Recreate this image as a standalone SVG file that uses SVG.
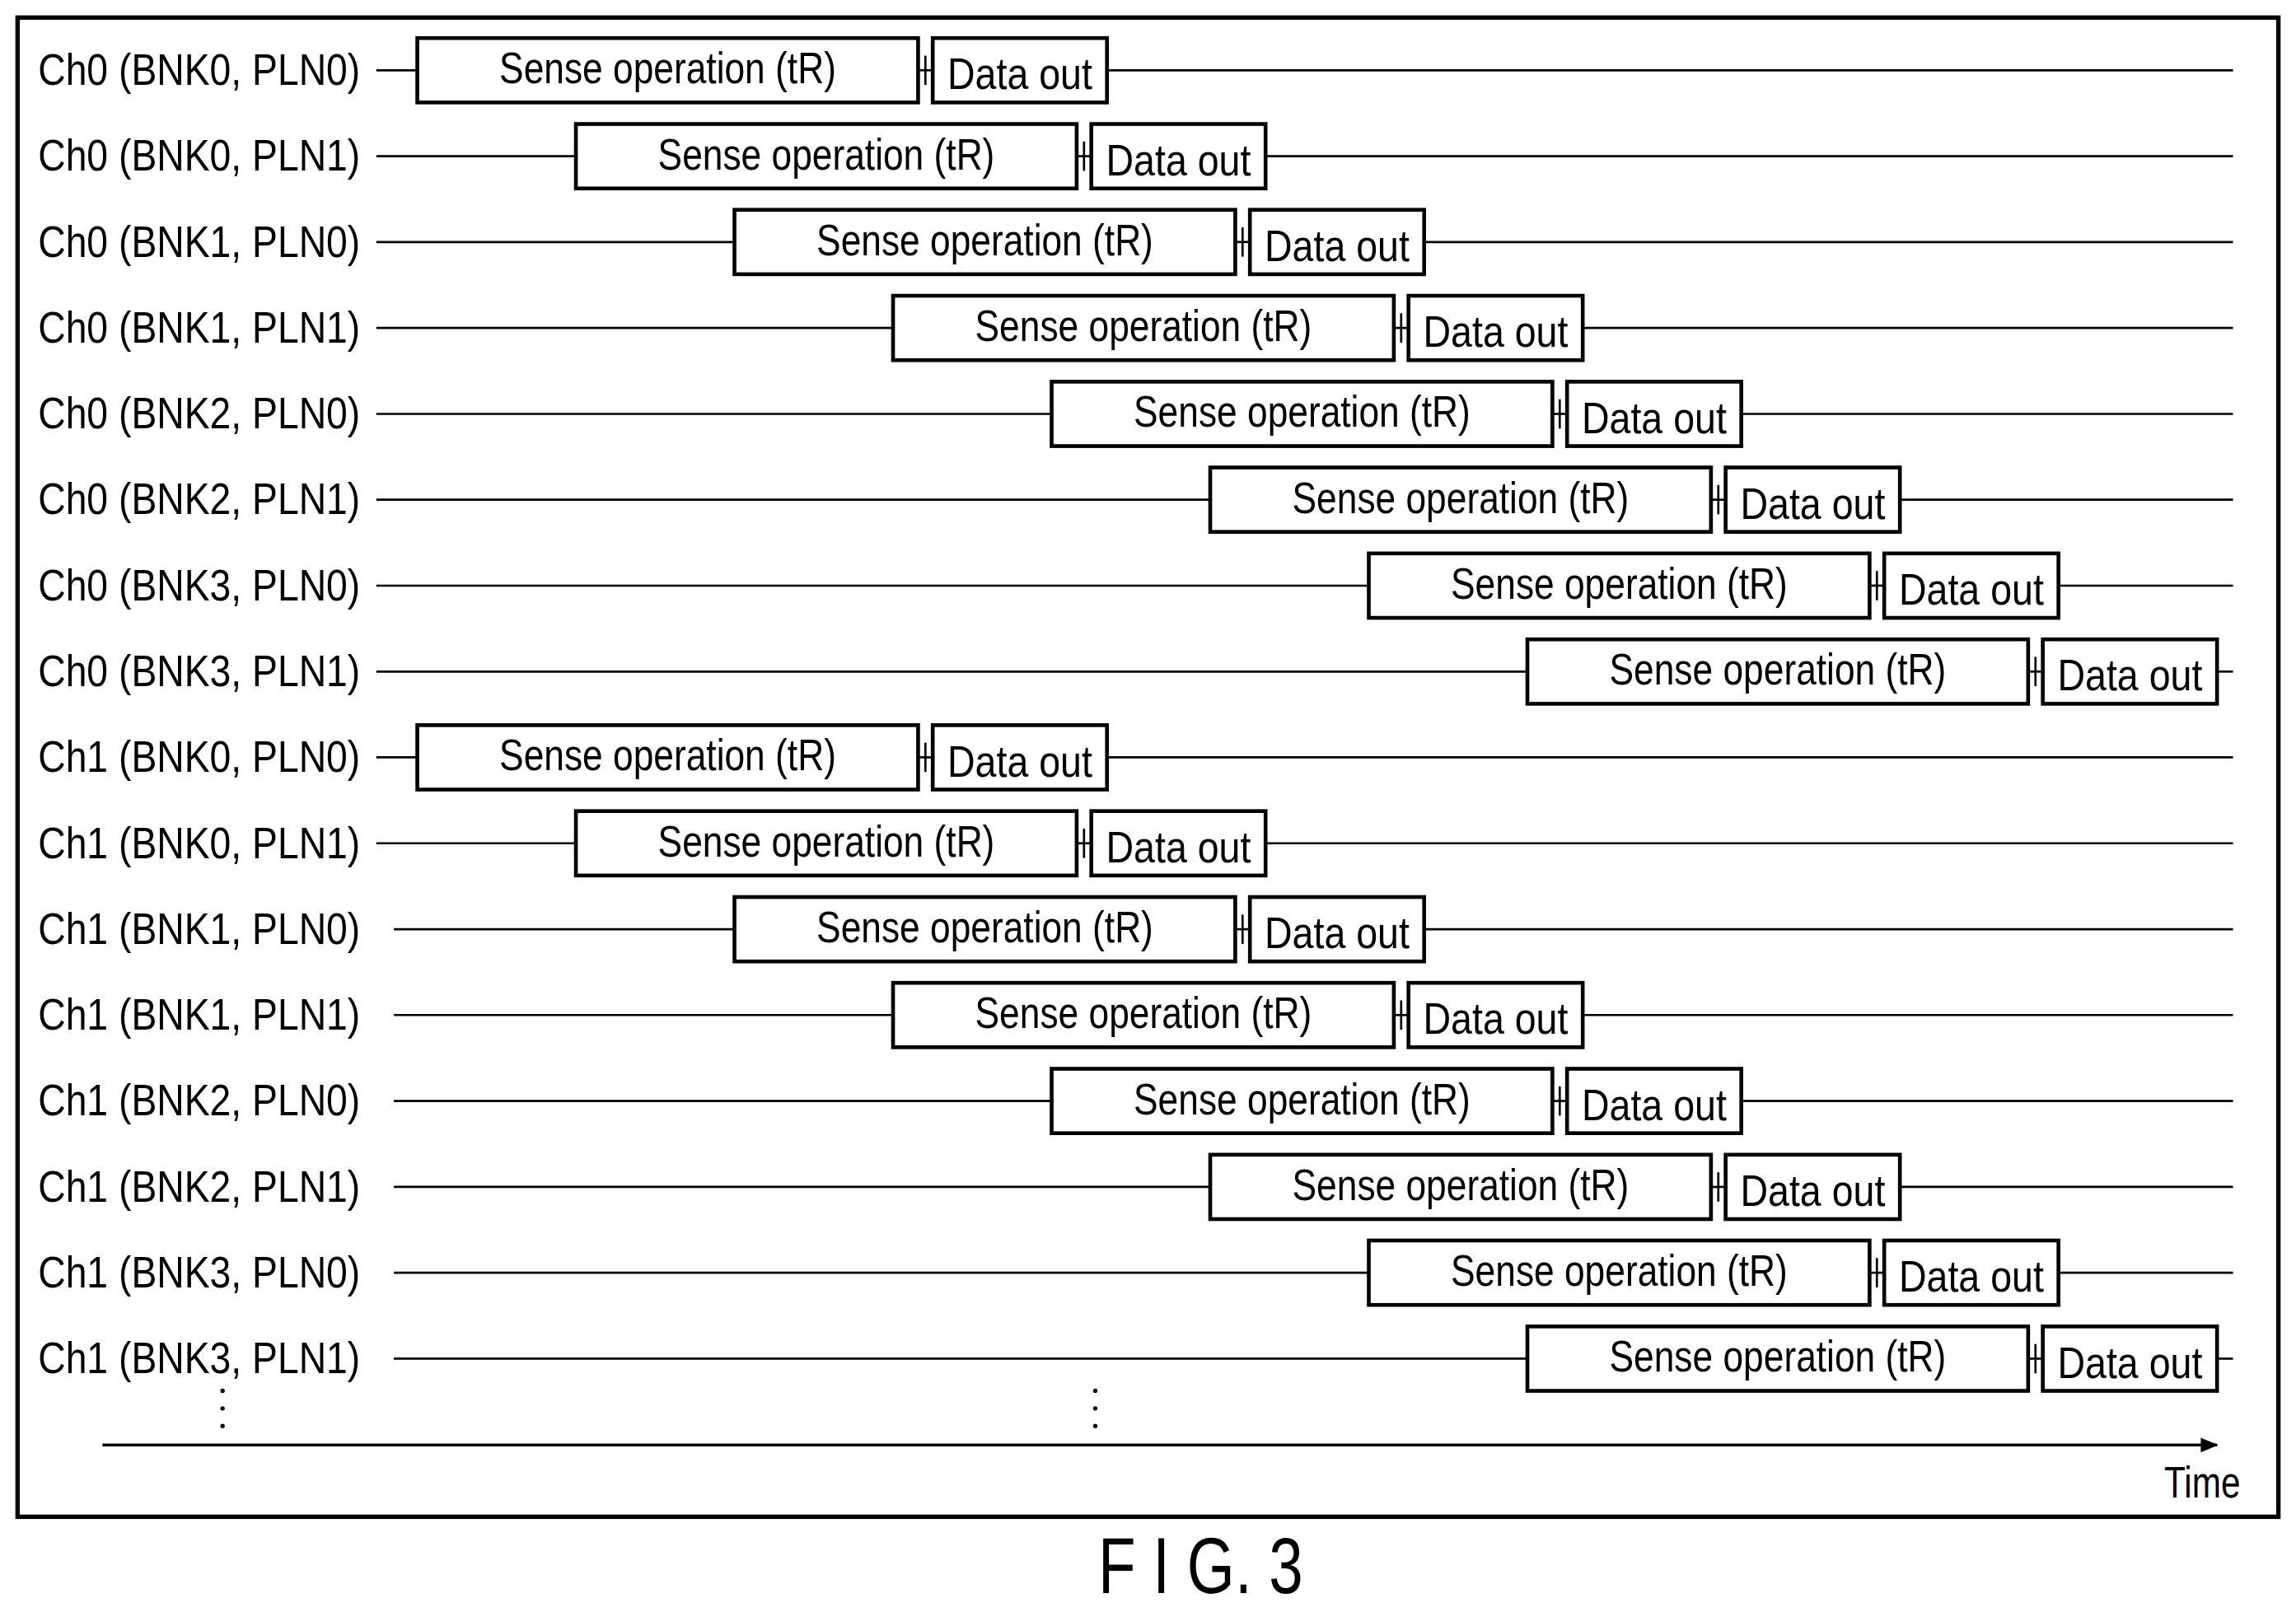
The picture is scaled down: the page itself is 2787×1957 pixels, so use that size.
<svg xmlns="http://www.w3.org/2000/svg" width="2787" height="1957" viewBox="0 0 2787 1957">
<style>
.b{fill:#fff;stroke:#000;stroke-width:2.6}
.l{stroke:#000;stroke-width:1.5;fill:none}
.t{font-family:"Liberation Sans",Arial,sans-serif;font-size:30px;fill:#000}
.c{text-anchor:middle}
</style>
<defs><marker id="ah" markerWidth="12" markerHeight="10" refX="11" refY="5" orient="auto" markerUnits="userSpaceOnUse"><path d="M0,0 L12,5 L0,10 Z" fill="#000"/></marker></defs>
<rect width="2787" height="1957" fill="#fff"/>
<g transform="scale(1.7774)">
<rect x="12" y="12" width="1544" height="1024" fill="none" stroke="#000" stroke-width="3"/>
<g id="connectors">
<line class="l" x1="257" y1="48" x2="285" y2="48"/><line class="l" x1="627" y1="48" x2="637" y2="48"/><line class="l" x1="632" y1="38" x2="632" y2="58"/><line class="l" x1="756" y1="48" x2="1525" y2="48"/>
<line class="l" x1="257" y1="106.7" x2="393.3" y2="106.7"/><line class="l" x1="735.3" y1="106.7" x2="745.3" y2="106.7"/><line class="l" x1="740.3" y1="96.7" x2="740.3" y2="116.7"/><line class="l" x1="864.3" y1="106.7" x2="1525" y2="106.7"/>
<line class="l" x1="257" y1="165.3" x2="501.6" y2="165.3"/><line class="l" x1="843.6" y1="165.3" x2="853.6" y2="165.3"/><line class="l" x1="848.6" y1="155.3" x2="848.6" y2="175.3"/><line class="l" x1="972.6" y1="165.3" x2="1525" y2="165.3"/>
<line class="l" x1="257" y1="224" x2="609.9" y2="224"/><line class="l" x1="951.9" y1="224" x2="961.9" y2="224"/><line class="l" x1="956.9" y1="214" x2="956.9" y2="234"/><line class="l" x1="1080.9" y1="224" x2="1525" y2="224"/>
<line class="l" x1="257" y1="282.7" x2="718.2" y2="282.7"/><line class="l" x1="1060.2" y1="282.7" x2="1070.2" y2="282.7"/><line class="l" x1="1065.2" y1="272.7" x2="1065.2" y2="292.7"/><line class="l" x1="1189.2" y1="282.7" x2="1525" y2="282.7"/>
<line class="l" x1="257" y1="341.3" x2="826.5" y2="341.3"/><line class="l" x1="1168.5" y1="341.3" x2="1178.5" y2="341.3"/><line class="l" x1="1173.5" y1="331.3" x2="1173.5" y2="351.3"/><line class="l" x1="1297.5" y1="341.3" x2="1525" y2="341.3"/>
<line class="l" x1="257" y1="400" x2="934.8" y2="400"/><line class="l" x1="1276.8" y1="400" x2="1286.8" y2="400"/><line class="l" x1="1281.8" y1="390" x2="1281.8" y2="410"/><line class="l" x1="1405.8" y1="400" x2="1525" y2="400"/>
<line class="l" x1="257" y1="458.7" x2="1043.1" y2="458.7"/><line class="l" x1="1385.1" y1="458.7" x2="1395.1" y2="458.7"/><line class="l" x1="1390.1" y1="448.7" x2="1390.1" y2="468.7"/><line class="l" x1="1514.1" y1="458.7" x2="1525" y2="458.7"/>
<line class="l" x1="257" y1="517.3" x2="285" y2="517.3"/><line class="l" x1="627" y1="517.3" x2="637" y2="517.3"/><line class="l" x1="632" y1="507.3" x2="632" y2="527.3"/><line class="l" x1="756" y1="517.3" x2="1525" y2="517.3"/>
<line class="l" x1="257" y1="576" x2="393.3" y2="576"/><line class="l" x1="735.3" y1="576" x2="745.3" y2="576"/><line class="l" x1="740.3" y1="566" x2="740.3" y2="586"/><line class="l" x1="864.3" y1="576" x2="1525" y2="576"/>
<line class="l" x1="269" y1="634.7" x2="501.6" y2="634.7"/><line class="l" x1="843.6" y1="634.7" x2="853.6" y2="634.7"/><line class="l" x1="848.6" y1="624.7" x2="848.6" y2="644.7"/><line class="l" x1="972.6" y1="634.7" x2="1525" y2="634.7"/>
<line class="l" x1="269" y1="693.3" x2="609.9" y2="693.3"/><line class="l" x1="951.9" y1="693.3" x2="961.9" y2="693.3"/><line class="l" x1="956.9" y1="683.3" x2="956.9" y2="703.3"/><line class="l" x1="1080.9" y1="693.3" x2="1525" y2="693.3"/>
<line class="l" x1="269" y1="752" x2="718.2" y2="752"/><line class="l" x1="1060.2" y1="752" x2="1070.2" y2="752"/><line class="l" x1="1065.2" y1="742" x2="1065.2" y2="762"/><line class="l" x1="1189.2" y1="752" x2="1525" y2="752"/>
<line class="l" x1="269" y1="810.7" x2="826.5" y2="810.7"/><line class="l" x1="1168.5" y1="810.7" x2="1178.5" y2="810.7"/><line class="l" x1="1173.5" y1="800.7" x2="1173.5" y2="820.7"/><line class="l" x1="1297.5" y1="810.7" x2="1525" y2="810.7"/>
<line class="l" x1="269" y1="869.3" x2="934.8" y2="869.3"/><line class="l" x1="1276.8" y1="869.3" x2="1286.8" y2="869.3"/><line class="l" x1="1281.8" y1="859.3" x2="1281.8" y2="879.3"/><line class="l" x1="1405.8" y1="869.3" x2="1525" y2="869.3"/>
<line class="l" x1="269" y1="928" x2="1043.1" y2="928"/><line class="l" x1="1385.1" y1="928" x2="1395.1" y2="928"/><line class="l" x1="1390.1" y1="918" x2="1390.1" y2="938"/><line class="l" x1="1514.1" y1="928" x2="1525" y2="928"/>
<line x1="70" y1="987" x2="1514" y2="987" stroke="#000" stroke-width="2" marker-end="url(#ah)"/>
</g>
<g id="labels">
<text class="t" x="26" y="58" textLength="220" lengthAdjust="spacingAndGlyphs">Ch0 (BNK0, PLN0)</text>
<text class="t" x="26" y="116.7" textLength="220" lengthAdjust="spacingAndGlyphs">Ch0 (BNK0, PLN1)</text>
<text class="t" x="26" y="175.3" textLength="220" lengthAdjust="spacingAndGlyphs">Ch0 (BNK1, PLN0)</text>
<text class="t" x="26" y="234" textLength="220" lengthAdjust="spacingAndGlyphs">Ch0 (BNK1, PLN1)</text>
<text class="t" x="26" y="292.7" textLength="220" lengthAdjust="spacingAndGlyphs">Ch0 (BNK2, PLN0)</text>
<text class="t" x="26" y="351.3" textLength="220" lengthAdjust="spacingAndGlyphs">Ch0 (BNK2, PLN1)</text>
<text class="t" x="26" y="410" textLength="220" lengthAdjust="spacingAndGlyphs">Ch0 (BNK3, PLN0)</text>
<text class="t" x="26" y="468.7" textLength="220" lengthAdjust="spacingAndGlyphs">Ch0 (BNK3, PLN1)</text>
<text class="t" x="26" y="527.3" textLength="220" lengthAdjust="spacingAndGlyphs">Ch1 (BNK0, PLN0)</text>
<text class="t" x="26" y="586" textLength="220" lengthAdjust="spacingAndGlyphs">Ch1 (BNK0, PLN1)</text>
<text class="t" x="26" y="644.7" textLength="220" lengthAdjust="spacingAndGlyphs">Ch1 (BNK1, PLN0)</text>
<text class="t" x="26" y="703.3" textLength="220" lengthAdjust="spacingAndGlyphs">Ch1 (BNK1, PLN1)</text>
<text class="t" x="26" y="762" textLength="220" lengthAdjust="spacingAndGlyphs">Ch1 (BNK2, PLN0)</text>
<text class="t" x="26" y="820.7" textLength="220" lengthAdjust="spacingAndGlyphs">Ch1 (BNK2, PLN1)</text>
<text class="t" x="26" y="879.3" textLength="220" lengthAdjust="spacingAndGlyphs">Ch1 (BNK3, PLN0)</text>
<text class="t" x="26" y="938" textLength="220" lengthAdjust="spacingAndGlyphs">Ch1 (BNK3, PLN1)</text>
</g>
<g id="n0"><rect class="b" x="285" y="26" width="342" height="44"/><text class="t c" x="456" y="57" textLength="230" lengthAdjust="spacingAndGlyphs">Sense operation (tR)</text><rect class="b" x="637" y="26" width="119" height="44"/><text class="t c" x="696.5" y="61" textLength="99" lengthAdjust="spacingAndGlyphs">Data out</text></g>
<g id="n1"><rect class="b" x="393.3" y="84.7" width="342" height="44"/><text class="t c" x="564.3" y="115.7" textLength="230" lengthAdjust="spacingAndGlyphs">Sense operation (tR)</text><rect class="b" x="745.3" y="84.7" width="119" height="44"/><text class="t c" x="804.8" y="119.7" textLength="99" lengthAdjust="spacingAndGlyphs">Data out</text></g>
<g id="n2"><rect class="b" x="501.6" y="143.3" width="342" height="44"/><text class="t c" x="672.6" y="174.3" textLength="230" lengthAdjust="spacingAndGlyphs">Sense operation (tR)</text><rect class="b" x="853.6" y="143.3" width="119" height="44"/><text class="t c" x="913.1" y="178.3" textLength="99" lengthAdjust="spacingAndGlyphs">Data out</text></g>
<g id="n3"><rect class="b" x="609.9" y="202" width="342" height="44"/><text class="t c" x="780.9" y="233" textLength="230" lengthAdjust="spacingAndGlyphs">Sense operation (tR)</text><rect class="b" x="961.9" y="202" width="119" height="44"/><text class="t c" x="1021.4" y="237" textLength="99" lengthAdjust="spacingAndGlyphs">Data out</text></g>
<g id="n4"><rect class="b" x="718.2" y="260.7" width="342" height="44"/><text class="t c" x="889.2" y="291.7" textLength="230" lengthAdjust="spacingAndGlyphs">Sense operation (tR)</text><rect class="b" x="1070.2" y="260.7" width="119" height="44"/><text class="t c" x="1129.7" y="295.7" textLength="99" lengthAdjust="spacingAndGlyphs">Data out</text></g>
<g id="n5"><rect class="b" x="826.5" y="319.3" width="342" height="44"/><text class="t c" x="997.5" y="350.3" textLength="230" lengthAdjust="spacingAndGlyphs">Sense operation (tR)</text><rect class="b" x="1178.5" y="319.3" width="119" height="44"/><text class="t c" x="1238" y="354.3" textLength="99" lengthAdjust="spacingAndGlyphs">Data out</text></g>
<g id="n6"><rect class="b" x="934.8" y="378" width="342" height="44"/><text class="t c" x="1105.8" y="409" textLength="230" lengthAdjust="spacingAndGlyphs">Sense operation (tR)</text><rect class="b" x="1286.8" y="378" width="119" height="44"/><text class="t c" x="1346.3" y="413" textLength="99" lengthAdjust="spacingAndGlyphs">Data out</text></g>
<g id="n7"><rect class="b" x="1043.1" y="436.7" width="342" height="44"/><text class="t c" x="1214.1" y="467.7" textLength="230" lengthAdjust="spacingAndGlyphs">Sense operation (tR)</text><rect class="b" x="1395.1" y="436.7" width="119" height="44"/><text class="t c" x="1454.6" y="471.7" textLength="99" lengthAdjust="spacingAndGlyphs">Data out</text></g>
<g id="n8"><rect class="b" x="285" y="495.3" width="342" height="44"/><text class="t c" x="456" y="526.3" textLength="230" lengthAdjust="spacingAndGlyphs">Sense operation (tR)</text><rect class="b" x="637" y="495.3" width="119" height="44"/><text class="t c" x="696.5" y="530.3" textLength="99" lengthAdjust="spacingAndGlyphs">Data out</text></g>
<g id="n9"><rect class="b" x="393.3" y="554" width="342" height="44"/><text class="t c" x="564.3" y="585" textLength="230" lengthAdjust="spacingAndGlyphs">Sense operation (tR)</text><rect class="b" x="745.3" y="554" width="119" height="44"/><text class="t c" x="804.8" y="589" textLength="99" lengthAdjust="spacingAndGlyphs">Data out</text></g>
<g id="n10"><rect class="b" x="501.6" y="612.7" width="342" height="44"/><text class="t c" x="672.6" y="643.7" textLength="230" lengthAdjust="spacingAndGlyphs">Sense operation (tR)</text><rect class="b" x="853.6" y="612.7" width="119" height="44"/><text class="t c" x="913.1" y="647.7" textLength="99" lengthAdjust="spacingAndGlyphs">Data out</text></g>
<g id="n11"><rect class="b" x="609.9" y="671.3" width="342" height="44"/><text class="t c" x="780.9" y="702.3" textLength="230" lengthAdjust="spacingAndGlyphs">Sense operation (tR)</text><rect class="b" x="961.9" y="671.3" width="119" height="44"/><text class="t c" x="1021.4" y="706.3" textLength="99" lengthAdjust="spacingAndGlyphs">Data out</text></g>
<g id="n12"><rect class="b" x="718.2" y="730" width="342" height="44"/><text class="t c" x="889.2" y="761" textLength="230" lengthAdjust="spacingAndGlyphs">Sense operation (tR)</text><rect class="b" x="1070.2" y="730" width="119" height="44"/><text class="t c" x="1129.7" y="765" textLength="99" lengthAdjust="spacingAndGlyphs">Data out</text></g>
<g id="n13"><rect class="b" x="826.5" y="788.7" width="342" height="44"/><text class="t c" x="997.5" y="819.7" textLength="230" lengthAdjust="spacingAndGlyphs">Sense operation (tR)</text><rect class="b" x="1178.5" y="788.7" width="119" height="44"/><text class="t c" x="1238" y="823.7" textLength="99" lengthAdjust="spacingAndGlyphs">Data out</text></g>
<g id="n14"><rect class="b" x="934.8" y="847.3" width="342" height="44"/><text class="t c" x="1105.8" y="878.3" textLength="230" lengthAdjust="spacingAndGlyphs">Sense operation (tR)</text><rect class="b" x="1286.8" y="847.3" width="119" height="44"/><text class="t c" x="1346.3" y="882.3" textLength="99" lengthAdjust="spacingAndGlyphs">Data out</text></g>
<g id="n15"><rect class="b" x="1043.1" y="906" width="342" height="44"/><text class="t c" x="1214.1" y="937" textLength="230" lengthAdjust="spacingAndGlyphs">Sense operation (tR)</text><rect class="b" x="1395.1" y="906" width="119" height="44"/><text class="t c" x="1454.6" y="941" textLength="99" lengthAdjust="spacingAndGlyphs">Data out</text></g>
<g id="dots" fill="#000"><circle cx="152" cy="950" r="1.5"/><circle cx="152" cy="962" r="1.5"/><circle cx="152" cy="974" r="1.5"/><circle cx="748" cy="950" r="1.5"/><circle cx="748" cy="962" r="1.5"/><circle cx="748" cy="974" r="1.5"/></g>
<text class="t" x="1478" y="1023" textLength="52" lengthAdjust="spacingAndGlyphs">Time</text>
<text class="t" x="750" y="1088" font-size="54" textLength="140" lengthAdjust="spacingAndGlyphs" style="font-size:54px">F I G. 3</text>
</g>
</svg>
